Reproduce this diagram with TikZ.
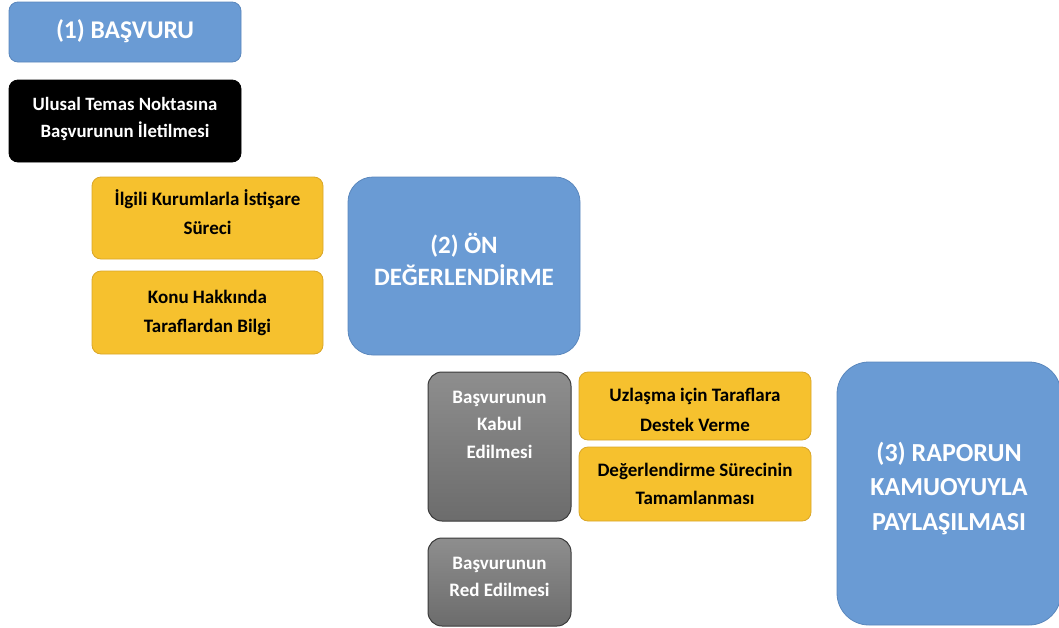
\documentclass[tikz,border=0pt]{standalone}
\usepackage{fontspec}
\setmainfont{Carlito}
\definecolor{bfill}{HTML}{6A9BD4}
\definecolor{bedge}{HTML}{5A87BD}
\definecolor{yfill}{HTML}{F6C12E}
\definecolor{yedge}{HTML}{D9A628}
\definecolor{gtop}{HTML}{8E8E8E}
\definecolor{gbot}{HTML}{6C6C6C}
\definecolor{gedge}{HTML}{3A3A3A}
\begin{document}
\begin{tikzpicture}[x=1pt,y=-1pt,
  box/.style={rectangle, rounded corners=9pt, align=center, inner sep=0pt, line width=0.8pt},
  bluebox/.style={box, fill=bfill, draw=bedge},
  blackbox/.style={box, fill=black, draw=black},
  yellowbox/.style={box, fill=yfill, draw=yedge},
  graybox/.style={box, rounded corners=14pt, top color=gtop, bottom color=gbot, draw=gedge, line width=1pt},
  txt/.style={align=center, inner sep=0pt},
  bluetxt/.style={txt, text=white, font=\bfseries\fontsize{25.5}{33}\selectfont},
  whitetxt/.style={txt, text=white, font=\bfseries\fontsize{19}{27}\selectfont},
  blacktxt/.style={txt, text=black, font=\bfseries\fontsize{19}{29}\selectfont}
]
\useasboundingbox (0,0) rectangle (1059,627);
% (1)
\node[bluebox, minimum width=232pt, minimum height=60pt] (b1) at (125,32) {};
\node[bluetxt, yshift=1pt] (b1t) at (b1.center) {(1) BAŞVURU};
\node[blackbox, minimum width=232pt, minimum height=82pt] (k1) at (125,121) {};
\node[whitetxt, font=\bfseries\fontsize{18.8}{27}\selectfont, yshift=2pt] (k1t) at (k1.center) {Ulusal Temas Noktasına\\Başvurunun İletilmesi};
\node[yellowbox, minimum width=231pt, minimum height=82pt] (y1) at (207.5,218) {};
\node[blacktxt, yshift=6pt] (y1t) at (y1.center) {İlgili Kurumlarla İstişare\\Süreci};
\node[yellowbox, minimum width=231pt, minimum height=83pt] (y2) at (207.5,312.5) {};
\node[blacktxt] (y2t) at (y2.center) {Konu Hakkında\\Taraflardan Bilgi};
% (2)
\node[bluebox, rounded corners=25pt, minimum width=232pt, minimum height=178pt] (b2) at (464,266) {};
\node[bluetxt, font=\bfseries\fontsize{25}{32}\selectfont, yshift=7pt] (b2t) at (b2.center) {(2) ÖN\\DEĞERLENDİRME};
\node[graybox, minimum width=143pt, minimum height=149pt] (g1) at (499.5,446.5) {};
\node[whitetxt, font=\bfseries\fontsize{19}{27.5}\selectfont, anchor=north] (g1t) at ([yshift=-19pt]g1.north) {Başvurunun\\Kabul\\Edilmesi};
\node[graybox, minimum width=143pt, minimum height=88pt] (g2) at (499.5,582) {};
\node[whitetxt, yshift=5pt] (g2t) at (g2.center) {Başvurunun\\Red Edilmesi};
\node[yellowbox, minimum width=232pt, minimum height=68pt] (y3) at (695,406) {};
\node[blacktxt, font=\bfseries\fontsize{19}{30}\selectfont, yshift=-4pt] (y3t) at (y3.center) {Uzlaşma için Taraflara\\Destek Verme};
\node[yellowbox, minimum width=232pt, minimum height=74pt] (y4) at (695,484) {};
\node[blacktxt, font=\bfseries\fontsize{19}{28}\selectfont] (y4t) at (y4.center) {Değerlendirme Sürecinin\\Tamamlanması};
% (3)
\node[bluebox, rounded corners=32pt, minimum width=224pt, minimum height=263pt] (b3) at (949,493.5) {};
\node[bluetxt, font=\bfseries\fontsize{26}{34.5}\selectfont, yshift=5pt] (b3t) at (b3.center) {(3) RAPORUN\\KAMUOYUYLA\\PAYLAŞILMASI};
\end{tikzpicture}
\end{document}
